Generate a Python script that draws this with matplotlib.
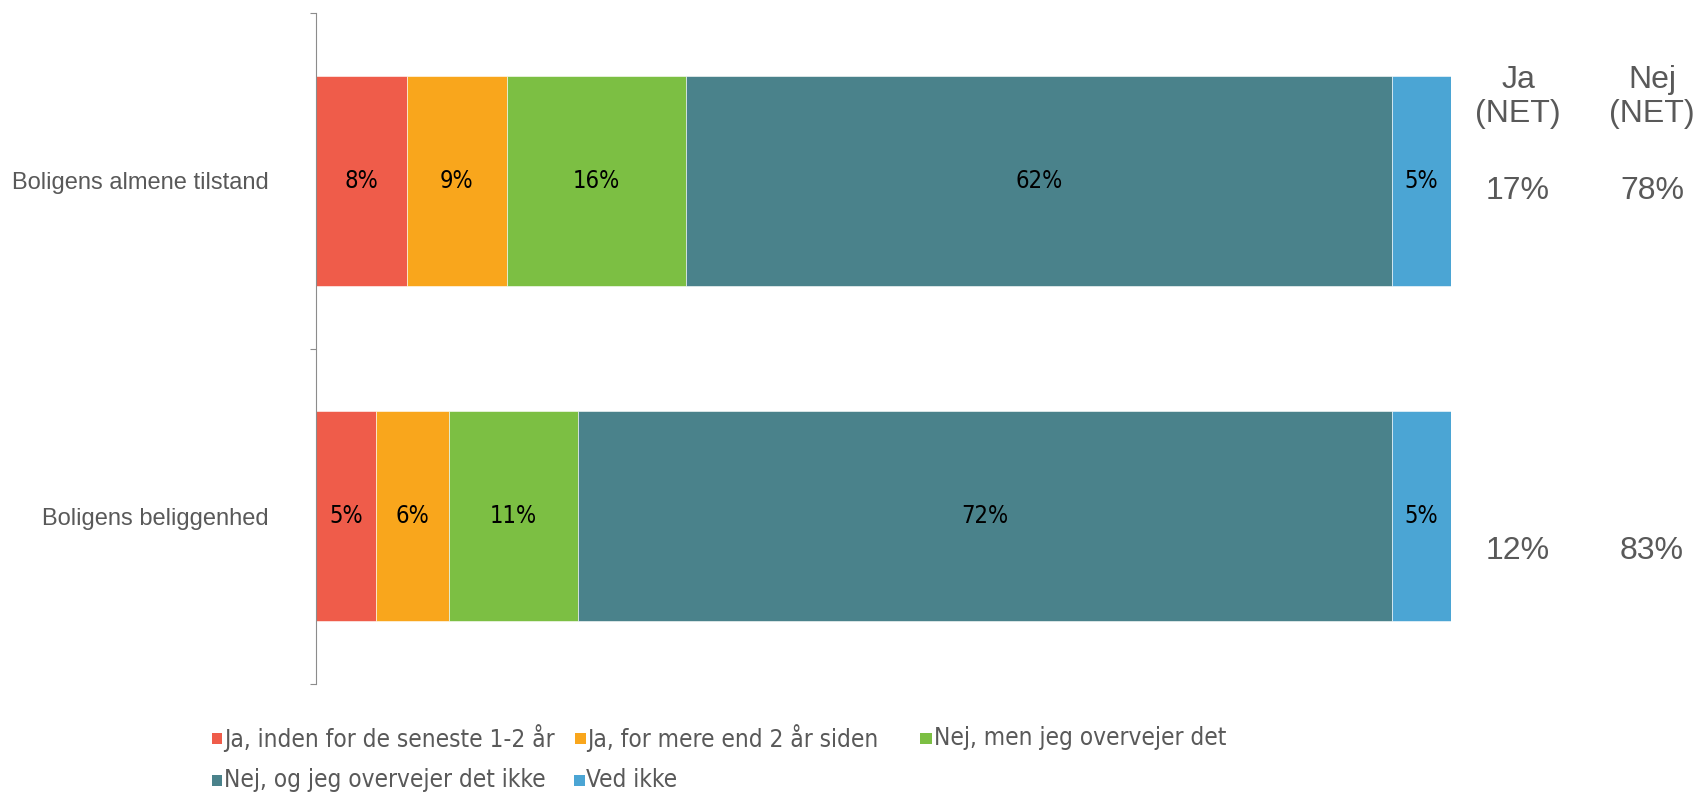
import matplotlib
matplotlib.use('Agg')
import numpy as np
from matplotlib import pyplot as plt
from matplotlib.patches import Rectangle

categories = ['Boligens almene tilstand', 'Boligens beliggenhed']
series = [
    'Ja, inden for de seneste 1-2 år',
    'Ja, for mere end 2 år siden',
    'Nej, men jeg overvejer det',
    'Nej, og jeg overvejer det ikke',
    'Ved ikke',
]
values = [
    [8.0, 5.3],
    [8.8, 6.4],
    [15.8, 11.4],
    [62.2, 71.7],
    [5.2, 5.2],
]
net_headers = ['Ja\n(NET)', 'Nej\n(NET)']
net_values = [[17, 12], [78, 83]]
colors = ['#EF5C4A', '#F9A61C', '#7CBF43', '#4A828B', '#4BA5D4']

grey = '#595959'
label_font = 'Liberation Sans'

fig = plt.figure(figsize=(16.98, 7.92), dpi=100)
ax = fig.add_axes([316 / 1698, 1 - 684 / 792, (1451 - 316) / 1698, (684 - 13) / 792])

y = np.arange(len(categories))
left = np.zeros(len(categories))
for name, vals, col in zip(series, values, colors):
    vals = np.array(vals)
    ax.barh(y, vals, left=left, height=0.626, color=col,
            edgecolor='white', linewidth=0.4, label=name)
    for yi, l, v in zip(y, left, vals):
        ax.text(l + v / 2, yi, f'{v:.0f}%', ha='center', va='center',
                fontsize=17, color='black', family='DejaVu Sans', fontstretch='condensed')
    left += vals

ax.set_xlim(0, 100)
ax.set_ylim(1.5, -0.5)
ax.set_xticks([])
for s in ['top', 'right', 'bottom']:
    ax.spines[s].set_visible(False)
ax.spines['left'].set_color('#8c8c8c')

ax.set_yticks([-0.5, 0.5, 1.5])
ax.set_yticklabels([])
ax.tick_params(axis='y', which='major', length=4, color='#8c8c8c', direction='out')
ax.set_yticks(y, minor=True)
ax.set_yticklabels(categories, minor=True, fontsize=17, color=grey, family=label_font)
ax.tick_params(axis='y', which='minor', length=0, pad=34)

# NET columns
trans = matplotlib.transforms.blended_transform_factory(fig.transFigure, ax.transData)
net_x = [1518 / 1698, 1652 / 1698]
net_y = [0.03, 1.105]
for hx, head, vals in zip(net_x, net_headers, net_values):
    ax.text(hx, -0.25, head, transform=trans, ha='center', va='center',
            fontsize=23, color=grey, family=label_font, linespacing=1.2)
    for ny, v in zip(net_y, vals):
        ax.text(hx, ny, f'{v}%', transform=trans, ha='center', va='center',
                fontsize=23, color=grey, family=label_font)

# legend, laid out by hand to match the original spacing
leg_pos = [(217, 738), (580, 738), (926, 738), (217, 780), (579, 780)]
sq = 11
for (px, py), name, col in zip(leg_pos, series, colors):
    fig.patches.append(Rectangle(((px - sq / 2) / 1698, 1 - (py + sq / 2) / 792),
                                 sq / 1698, sq / 792, transform=fig.transFigure,
                                 facecolor=col, edgecolor='none'))
    fig.text((px + sq / 2 + 2) / 1698, 1 - py / 792, name, ha='left', va='center',
             fontsize=17.5, color=grey, family='DejaVu Sans', fontstretch='condensed')

fig.savefig('out.png', dpi=100)
